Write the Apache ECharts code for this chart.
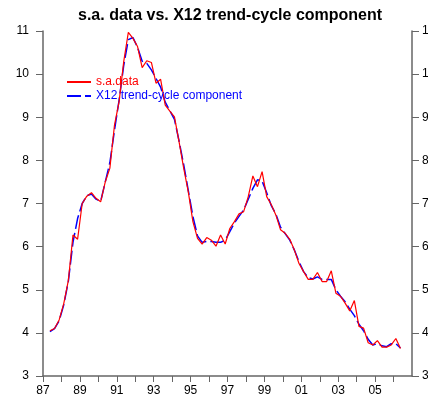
<!DOCTYPE html>
<html>
<head>
<meta charset="utf-8">
<script src="https://cdn.jsdelivr.net/npm/echarts@6/dist/echarts.min.js"></script>
<style>
  html, body { margin: 0; padding: 0; background: #fff; }
  #chart { width: 428px; height: 402px; }
</style>
</head>
<body>
<div id="chart"></div>
<script>
  // quarterly series, first point 1987 Q2
  const startYear = 1987.375;
  const saData = [
    4.05, 4.10, 4.30, 4.68, 5.22, 6.27, 6.17, 7.00, 7.17, 7.25,
    7.12, 7.04, 7.50, 7.82, 8.82, 9.36, 10.29, 10.97, 10.83, 10.64,
    10.15, 10.31, 10.27, 9.79, 9.88, 9.28, 9.14, 9.01, 8.43, 7.82,
    7.27, 6.58, 6.19, 6.06, 6.21, 6.15, 6.01, 6.27, 6.06, 6.42,
    6.58, 6.76, 6.81, 7.16, 7.64, 7.39, 7.74, 7.16, 6.97, 6.73,
    6.39, 6.31, 6.17, 5.92, 5.61, 5.42, 5.24, 5.24, 5.40, 5.19,
    5.19, 5.44, 4.92, 4.85, 4.69, 4.51, 4.75, 4.15, 4.11, 3.77,
    3.72, 3.82, 3.67, 3.67, 3.72, 3.87, 3.64
  ];
  const trendData = [
    4.03, 4.10, 4.28, 4.65, 5.20, 6.10, 6.65, 7.00, 7.18, 7.22,
    7.10, 7.05, 7.50, 7.95, 8.70, 9.40, 10.20, 10.80, 10.85, 10.62,
    10.30, 10.25, 10.10, 9.90, 9.70, 9.35, 9.15, 8.95, 8.45, 7.90,
    7.30, 6.70, 6.25, 6.10, 6.12, 6.12, 6.10, 6.10, 6.15, 6.35,
    6.55, 6.70, 6.85, 7.10, 7.35, 7.55, 7.52, 7.25, 6.95, 6.75,
    6.45, 6.30, 6.15, 5.92, 5.65, 5.42, 5.28, 5.25, 5.30, 5.24,
    5.24, 5.24, 5.00, 4.85, 4.72, 4.55, 4.40, 4.20, 4.05, 3.85,
    3.72, 3.75, 3.70, 3.68, 3.75, 3.75, 3.65
  ];
  const yTicks = [3, 4, 5, 6, 7, 8, 9, 10, 11];
  const xLabelYears = [1987, 1989, 1991, 1993, 1995, 1997, 1999, 2001, 2003, 2005];

  const toPairs = arr => arr.map((v, i) => [startYear + i * 0.25, v]);

  const axisColor = '#666';
  const yAxisBase = {
    type: 'value',
    min: yTicks[0],
    max: yTicks[yTicks.length - 1],
    interval: 1,
    splitLine: {show: false},
    axisLine: {show: true, lineStyle: {color: axisColor, width: 1.5}},
    axisTick: {show: true, length: 7, lineStyle: {color: axisColor}},
    axisLabel: {color: '#000', fontSize: 12, fontFamily: 'Liberation Sans, Arial', margin: 14}
  };

  const option = {
    animation: false,
    backgroundColor: '#fff',
    title: {
      text: 's.a. data vs. X12 trend-cycle component',
      left: 73,
      top: 3,
      textStyle: {fontSize: 16, fontWeight: 'bold', color: '#000', fontFamily: 'Liberation Sans, Arial'}
    },
    legend: {
      orient: 'vertical',
      left: 61,
      top: 71,
      itemWidth: 24,
      itemHeight: 14,
      itemGap: 2,
      itemStyle: {opacity: 0},
      textStyle: {fontSize: 12, fontFamily: 'Liberation Sans, Arial'},
      data: [
        {name: 's.a.data', textStyle: {color: '#ff0000'}},
        {name: 'X12 trend-cycle component', textStyle: {color: '#0000ff'}}
      ]
    },
    grid: {left: 43, right: 16, top: 31, bottom: 26, outerBoundsMode: 'none'},
    xAxis: {
      type: 'value',
      min: 1987,
      max: 2007,
      interval: 1,
      splitLine: {show: false},
      axisLine: {lineStyle: {color: axisColor, width: 1.5}},
      axisTick: {length: 6, lineStyle: {color: axisColor}},
      axisLabel: {
        color: '#000',
        fontSize: 12,
        fontFamily: 'Liberation Sans, Arial',
        margin: 9,
        showMaxLabel: false,
        formatter: function (v) {
          if (xLabelYears.indexOf(v) < 0) return '';
          return String(v % 100).padStart(2, '0');
        }
      }
    },
    yAxis: [
      Object.assign({}, yAxisBase, {position: 'left'}),
      Object.assign({}, yAxisBase, {position: 'right', axisLabel: Object.assign({}, yAxisBase.axisLabel, {margin: 10})})
    ],
    series: [
      {
        name: 's.a.data',
        type: 'line',
        showSymbol: false,
        symbol: 'none',
        z: 3,
        data: toPairs(saData),
        lineStyle: {color: '#ff0000', width: 1.2},
        itemStyle: {color: '#ff0000'}
      },
      {
        name: 'X12 trend-cycle component',
        type: 'line',
        showSymbol: false,
        symbol: 'none',
        z: 2,
        data: toPairs(trendData),
        lineStyle: {color: '#0000ff', width: 1.5, type: [14, 4]},
        itemStyle: {color: '#0000ff'}
      }
    ]
  };

  echarts.init(document.getElementById('chart')).setOption(option);
</script>
</body>
</html>
